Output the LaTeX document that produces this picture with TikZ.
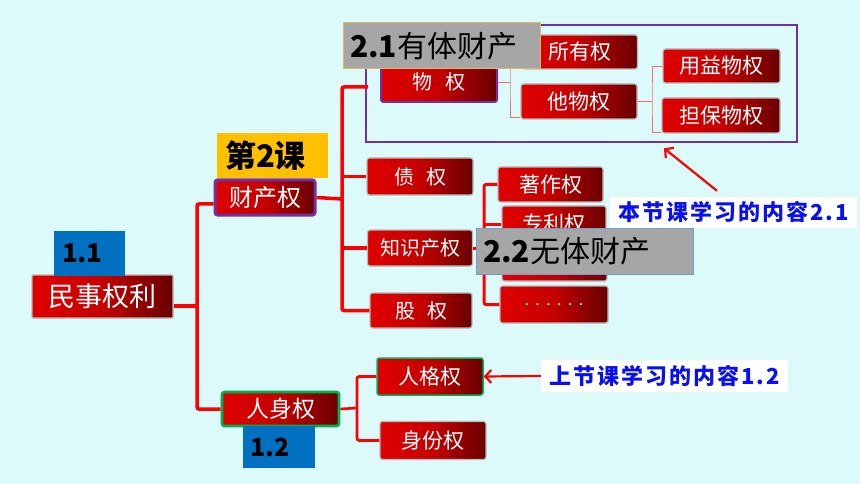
\documentclass[tikz,border=0pt]{standalone}
\usepackage{fontspec}
\setmainfont{Noto Sans CJK SC}
\usetikzlibrary{arrows.meta}
\definecolor{bg}{HTML}{DCFAFA}
\definecolor{rl}{HTML}{E00000}
\definecolor{rm}{HTML}{C40000}
\definecolor{rr}{HTML}{680000}
\definecolor{pur}{HTML}{7030A0}
\definecolor{grn}{HTML}{00B050}
\definecolor{gry}{HTML}{A6A6A6}
\definecolor{yel}{HTML}{FFC000}
\definecolor{blu}{HTML}{0070C0}
\definecolor{txtb}{HTML}{0A10F0}
\definecolor{gold}{HTML}{E0B860}
\definecolor{lblue}{HTML}{6A9FD0}
\definecolor{brkc}{HTML}{F07070}
\newcommand{\fz}[1]{\fontsize{#1}{#1}\selectfont}
\begin{document}
\begin{tikzpicture}[x=1pt,y=-1pt,
 rbox/.style={draw=gray!55, line width=1.2pt, rounded corners=2.5pt, left color=rl, right color=rr, middle color=rm, text=white, inner sep=0pt, font=\fz{21}},
 conn/.style={draw=red, line width=3.5pt, rounded corners=2pt},
 conntwo/.style={draw=red, line width=2.6pt, rounded corners=2pt},
 connthree/.style={draw=red, line width=3pt, rounded corners=2pt},
 brk/.style={draw=brkc, line width=0.9pt},
 arr/.style={draw=red, line width=2.2pt, -{Straight Barb[length=6pt,width=13pt]}},
 lab/.style={inner sep=0pt, align=left},
 wlab/.style={fill=white, inner sep=0pt, text=txtb, font=\fz{22}\bfseries\addfontfeature{LetterSpace=9}}
]
\useasboundingbox (0,0) rectangle (860,484);
\fill[bg] (0,0) rectangle (860,484);

% frame
\node[draw=pur, line width=2.5pt, minimum width=431pt, minimum height=117pt, inner sep=0pt] (frame) at (581.5,83.5) {};

% coordinates
\coordinate (j1) at (197,306);
\coordinate (j2) at (342,199);
\coordinate (wqin) at (368,87);
\coordinate (j3) at (357,408);
\coordinate (j4) at (484,248);
\coordinate (j5) at (510,84);
\coordinate (j6) at (652,99);

% boxes
\node[rbox, font=\fz{27}, minimum width=141pt, minimum height=43pt, rounded corners=1pt] (mszl) at (102.5,296.5) {民事权利};
\node[rbox, draw=pur, line width=3pt, font=\fz{24}, minimum width=100pt, minimum height=35pt] (ccq) at (265,197.5) {财产权};
\node[rbox, draw=grn, line width=2.6pt, font=\fz{23}, minimum width=117pt, minimum height=34pt] (rsq) at (280.5,409) {人身权};
\node[rbox, draw=pur, line width=2pt, font=\fz{20}, minimum width=116pt, minimum height=40pt] (wq) at (439,82) {物\hspace{0.7em}权};
\node[rbox, minimum width=115pt, minimum height=34pt] (syq) at (580,52) {所有权};
\node[rbox, minimum width=116pt, minimum height=35pt] (tq) at (579,101.5) {他物权};
\node[rbox, minimum width=117pt, minimum height=34pt] (yyq) at (721.5,66) {用益物权};
\node[rbox, minimum width=118pt, minimum height=35pt] (dbq) at (721,115.5) {担保物权};
\node[rbox, font=\fz{20}, minimum width=106pt, minimum height=37pt] (zq) at (420,176.5) {债\hspace{0.6em}权};
\node[rbox, font=\fz{20}, minimum width=105pt, minimum height=36pt] (zscq) at (420,248) {知识产权};
\node[rbox, font=\fz{20}, minimum width=102pt, minimum height=35pt] (gq) at (421,310.5) {股\hspace{0.6em}权};
\node[rbox, minimum width=105pt, minimum height=35pt] (zzq) at (550.5,184.5) {著作权};
\node[rbox, minimum width=104pt, minimum height=36pt] (zlq) at (554,224) {专利权};
\node[rbox, minimum width=105pt, minimum height=36pt] (sbq) at (554.5,263) {};
\node[rbox, font=\fz{16}, minimum width=108pt, minimum height=37pt] (dots) at (554,304.5) {.\hspace{0.4em}.\hspace{0.4em}.\hspace{0.4em}.\hspace{0.4em}.\hspace{0.4em}.};
\node[rbox, draw=grn, line width=1.5pt, minimum width=106pt, minimum height=37pt] (rgq) at (430,376.5) {人格权};
\node[rbox, minimum width=106pt, minimum height=38pt] (sfq) at (433,440.5) {身份权};

% connectors
\draw[conn] ([shift={(0,9.5)}]mszl.east) -- (j1);
\draw[conn] ([shift={(0,6.5)}]ccq.west) -| (j1) |- (rsq.west);
\draw[conn] (ccq.east) -- (j2);
\draw[conn] (wqin) -| (j2) |- (gq.west);
\draw[conn] (j2 |- zq.west) -- (zq.west);
\draw[conn] (j2 |- zscq.west) -- (zscq.west);
\draw[conntwo] (rsq.east) -- (j3);
\draw[conntwo] (rgq.west) -| (j3) |- (sfq.west);
\draw[connthree] (zscq.east) -- (j4);
\draw[connthree] (zzq.west) -| (j4) |- (dots.west);
\draw[connthree] (j4 |- zlq.west) -- (zlq.west);
\draw[connthree] (j4 |- sbq.west) -- (sbq.west);
\draw[brk] (wq.east) -- (j5 |- wq.east);
\draw[brk] (syq.west) -| (j5) |- ([shift={(0,15.5)}]tq.west);
\draw[brk] (tq.east) -- (j6 |- tq.east);
\draw[brk] (yyq.west) -| (j6) |- ([shift={(0,17)}]dbq.west);

% labels
\node[lab, fill=gry, draw=gold, line width=1pt, minimum height=46pt, text width=183pt, inner xsep=7pt, font=\fz{30}] (g21) at (441.5,46) {\textbf{2.1}有体财产};
\node[lab, fill=gry, draw=lblue, line width=1pt, minimum height=46pt, text width=203pt, inner xsep=7pt, font=\fz{30}] (g22) at (584.5,251) {\textbf{2.2}无体财产};
\node[lab, fill=yel, minimum height=45pt, text width=95pt, inner xsep=8pt, font=\fz{31}\bfseries] (k2) at (272.5,155.5) {第2课};
\node[lab, fill=blu, minimum height=45pt, text width=55pt, inner xsep=8pt, font=\fz{26}\bfseries] (b11) at (89.5,253) {1.1};
\node[lab, fill=blu, minimum height=42pt, text width=58pt, inner xsep=7pt, font=\fz{25}\bfseries] (b12) at (279,447) {1.2};

\node[wlab, minimum width=247pt, minimum height=31pt] (bj) at (733.5,212.5) {本节课学习的内容2.1};
\node[wlab, minimum width=247pt, minimum height=32pt] (sj) at (664.5,376) {上节课学习的内容1.2};

% arrows
\draw[arr] ([shift={(-16.5,-6)}]bj.north) -- ([shift={(82.5,5)}]frame.south);
\draw[arr] (sj.west) -- (rgq.east);
\end{tikzpicture}
\end{document}
